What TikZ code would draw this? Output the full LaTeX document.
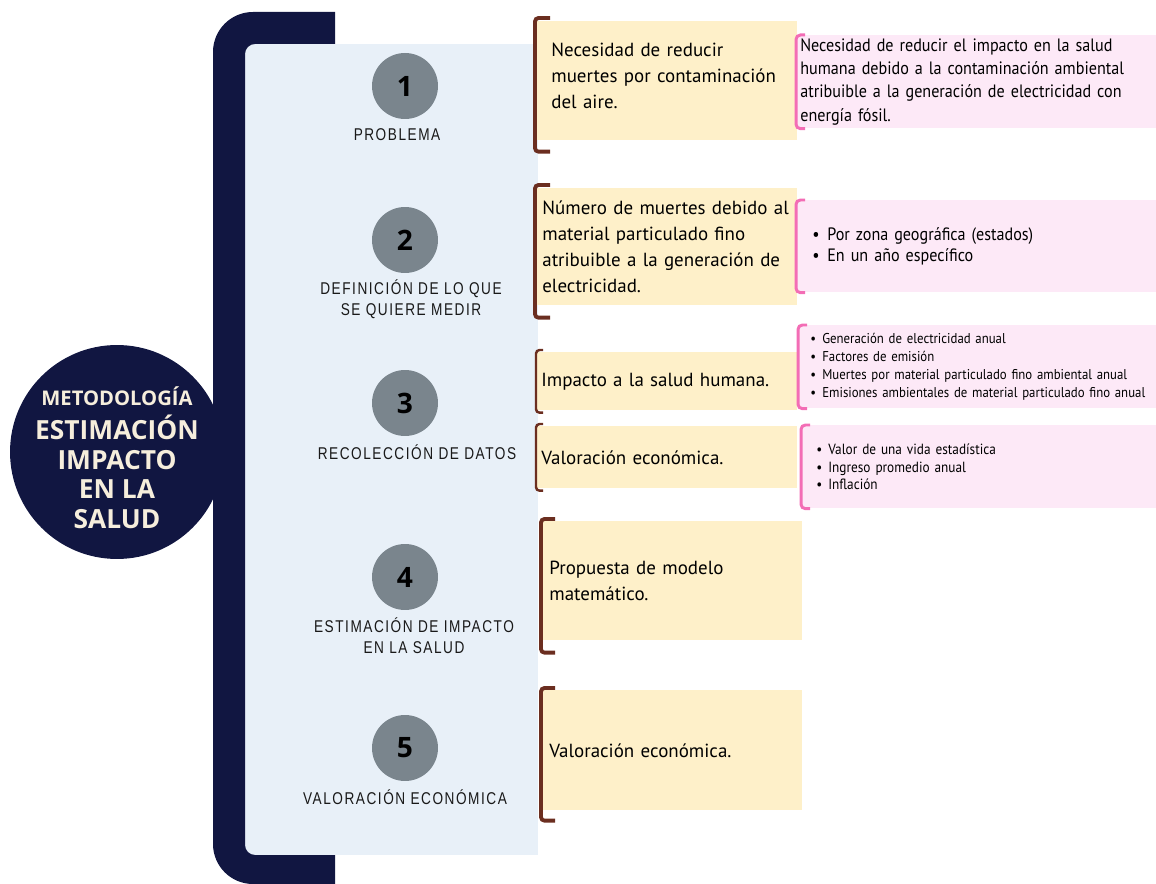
\documentclass[tikz,border=0pt]{standalone}
\usepackage{fontspec}
\setmainfont{PT Sans}
\newfontfamily\titlefont{Open Sans}
\newfontfamily\stepfont[FakeStretch=0.8,LetterSpace=9]{Liberation Sans}
\newfontfamily\notefont[FakeStretch=0.9]{PT Sans}
\usetikzlibrary{positioning}
\definecolor{navy}{HTML}{111641}
\definecolor{paleblue}{HTML}{E8F0F8}
\definecolor{stepgray}{HTML}{7A858D}
\definecolor{cream}{HTML}{FEF0C9}
\definecolor{bracketbrown}{HTML}{6B2E20}
\definecolor{pinkfill}{HTML}{FDE9F7}
\definecolor{pinkline}{HTML}{F36DB5}
\definecolor{titletext}{HTML}{F6EEDC}
\newcommand{\bul}{\makebox[0.3cm][l]{\textbullet}}
\newcommand{\smallbul}{\makebox[0.24cm][l]{\textbullet}}

\begin{document}
\begin{tikzpicture}[x=0.02cm,y=-0.02cm,
    stepcircle/.style={circle,fill=stepgray,minimum size=1.32cm,inner sep=0pt,font=\titlefont\bfseries\fontsize{16}{16}\selectfont},
    steplabel/.style={align=center,text=black!90,font=\stepfont\fontsize{9.7}{12}\selectfont},
    ybox/.style={anchor=north west,fill=cream,align=left,inner ysep=0pt,font=\fontsize{10.8}{14.7}\selectfont},
    pbox/.style={anchor=north west,fill=pinkfill,align=left,inner ysep=0pt},
    ybracket/.style={draw=bracketbrown,line width=2.2pt,rounded corners=2pt},
    pbracket/.style={draw=pinkline,line width=1.7pt,rounded corners=2.5pt}]
\useasboundingbox (0,0) rectangle (1156,884);
% panel behind the steps
\fill[paleblue] (235,44) rectangle (538,855);
% title disc and big bracket
\fill[navy] (117,452) circle (2.14cm);
\fill[navy] (335,12) [rounded corners=0.8cm] -- (213,12) -- (213,884) [sharp corners] -- (335,884) -- (335,855)
    [rounded corners=0.2cm] -- (245,855) -- (245,44) [sharp corners] -- (335,44) -- cycle;
\node[align=center,text=titletext,font=\titlefont\bfseries\fontsize{11.5}{17}\selectfont] (title) at (117,458)
    {METODOLOGÍA\\[2pt]
     \fontsize{15}{17}\selectfont ESTIMACIÓN\\ \fontsize{15}{17}\selectfont IMPACTO\\
     \fontsize{15}{17}\selectfont EN LA\\ \fontsize{15}{17}\selectfont SALUD};

% steps
\node[stepcircle] (c1) at (405,86) {1};
\node[stepcircle] (c2) at (405,240) {2};
\node[stepcircle] (c3) at (405,403) {3};
\node[stepcircle] (c4) at (405,577) {4};
\node[stepcircle] (c5) at (405,748) {5};
\node[steplabel] (l1) at (397,135) {PROBLEMA};
\node[steplabel] (l2) at (411,299) {DEFINICIÓN DE LO QUE\\SE QUIERE MEDIR};
\node[steplabel] (l3) at (417,452) {RECOLECCIÓN DE DATOS};
\node[steplabel] (l4) at (414,636) {ESTIMACIÓN DE IMPACTO\\EN LA SALUD};
\node[steplabel] (l5) at (405,797) {VALORACIÓN ECONÓMICA};

% yellow boxes
\node[ybox,minimum height=2.38cm,inner xsep=0.28cm,text width=4.64cm] (b1) at (537,21)
    {Necesidad de reducir\\muertes por contaminación\\del aire.\\[-9pt]\mbox{}};
\node[ybox,minimum height=2.34cm,inner xsep=0.1cm,text width=5cm] (b2) at (537,188)
    {Número de muertes debido al\\material particulado fino\\atribuible a la generación de\\electricidad.};
\node[ybox,minimum height=1.16cm,inner xsep=0.08cm,text width=5.04cm] (b3) at (537,352) {Impacto a la salud humana.};
\node[ybox,minimum height=1.24cm,inner xsep=0.08cm,text width=5.04cm] (b4) at (537,426) {Valoración económica.};
\node[ybox,minimum height=2.38cm,inner xsep=0.14cm,text width=4.92cm] (b5) at (542,521) {Propuesta de modelo\\matemático.};
\node[ybox,minimum height=2.4cm,inner xsep=0.14cm,text width=4.92cm] (b6) at (542,690) {Valoración económica.};
\draw[ybracket] ([shift={(13,-3)}]b1.north west) -| ([shift={(-2,11)}]b1.south west) -- ++(15,0);
\draw[ybracket] ([shift={(13,-3)}]b2.north west) -| ([shift={(-2,12)}]b2.south west) -- ++(15,0);
\draw[ybracket,line width=1.4pt] ([shift={(6,-2)}]b3.north west) -| ([shift={(-1,2)}]b3.south west) -- ++(7,0);
\draw[ybracket,line width=1.4pt] ([shift={(6,-2)}]b4.north west) -| ([shift={(-1,2)}]b4.south west) -- ++(7,0);
\draw[ybracket] ([shift={(13,-2)}]b5.north west) -| ([shift={(-1,12)}]b5.south west) -- ++(14,0);
\draw[ybracket] ([shift={(13,-2)}]b6.north west) -| ([shift={(-1,10)}]b6.south west) -- ++(14,0);

% pink notes
\node[pbox,minimum height=1.86cm,inner xsep=0.06cm,text width=7.06cm,font=\notefont\fontsize{10.2}{13.3}\selectfont] (p1) at (797,35)
    {Necesidad de reducir el impacto en la salud\\humana debido a la contaminación ambiental\\atribuible a la generación de electricidad con\\energía fósil.};
\node[pbox,minimum height=1.84cm,inner xsep=0.3cm,text width=6.58cm,font=\notefont\fontsize{10.2}{12.5}\selectfont] (p2) at (797,200)
    {\bul Por zona geográfica (estados)\\\bul En un año específico};
\node[pbox,minimum height=1.66cm,inner xsep=0.22cm,text width=7.6cm,font=\notefont\fontsize{8.1}{10.2}\selectfont] (p3) at (799,325)
    {\smallbul Generación de electricidad anual\\\smallbul Factores de emisión\\\smallbul Muertes por material particulado fino ambiental anual\\\smallbul Emisiones ambientales de material particulado fino anual};
\node[pbox,minimum height=1.66cm,inner xsep=0.28cm,text width=6.52cm,font=\notefont\fontsize{8.4}{10.2}\selectfont] (p4) at (802,425)
    {\smallbul Valor de una vida estadística\\\smallbul Ingreso promedio anual\\\smallbul Inflación};
\draw[pbracket] ([shift={(8,0)}]p1.north west) -| ([shift={(-1,0)}]p1.south west) -- ++(9,0);
\draw[pbracket] ([shift={(8,0)}]p2.north west) -| ([shift={(-1,0)}]p2.south west) -- ++(9,0);
\draw[pbracket] ([shift={(8,0)}]p3.north west) -| ([shift={(-1,0)}]p3.south west) -- ++(9,0);
\draw[pbracket] ([shift={(8,0)}]p4.north west) -| ([shift={(-1,0)}]p4.south west) -- ++(9,0);
\end{tikzpicture}
\end{document}
